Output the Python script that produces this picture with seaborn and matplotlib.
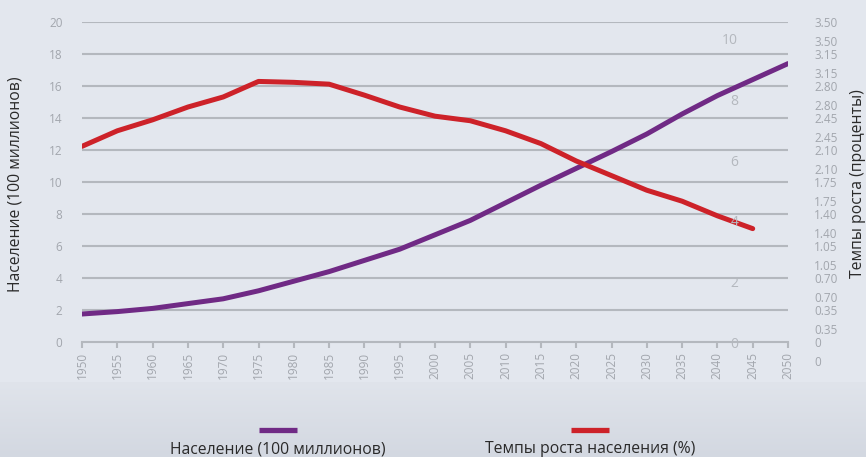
import numpy as np
import pandas as pd
import seaborn as sns
import matplotlib.pyplot as plt
from matplotlib.lines import Line2D

# ----------- Data ---------------------
years = list(range(1950, 2051, 5))
population = [1.75, 1.9, 2.1, 2.4, 2.7, 3.2, 3.8, 4.4, 5.1, 5.8, 6.7,
              7.6, 8.7, 9.8, 10.85, 11.9, 13.0, 14.25, 15.4, 16.4, 17.4]

growth_years = list(range(1950, 2046, 5))
growth_rate = [2.14, 2.31, 2.43, 2.57, 2.68, 2.85, 2.84, 2.82, 2.70, 2.57,
               2.47, 2.42, 2.31, 2.17, 1.98, 1.82, 1.66, 1.54, 1.38, 1.24]

left_ticks = [0, 2, 4, 6, 8, 10, 12, 14, 16, 18, 20]
right_ticks = [0, 0.35, 0.70, 1.05, 1.40, 1.75, 2.10, 2.45, 2.80, 3.15, 3.50]
inner_ticks = [0, 2, 4, 6, 8, 10]

pop_label = "Население (100 миллионов)"
rate_label = "Темпы роста населения (%)"
left_title = "Население (100 миллионов)"
right_title = "Темпы роста (проценты)"

pop_df = pd.DataFrame({"year": years, "value": population})
rate_df = pd.DataFrame({"year": growth_years, "value": growth_rate})

# ----------- Style ---------------------
sns.set_theme(style="white")
plt.rcParams['font.family'] = ['Open Sans', 'DejaVu Sans']

bg = "#e3e7ee"
grid_c = "#b4b8be"
tick_c = "#a2a6ad"
purple = "#702a85"
red = "#cd2229"

W, H = 866, 457
fig = plt.figure(figsize=(W / 100, H / 100), dpi=100, facecolor=bg)


def box(x0, y0, x1, y1):
    return [x0 / W, 1 - y1 / H, (x1 - x0) / W, (y1 - y0) / H]


# bottom gradient band
band = fig.add_axes(box(0, 382, W, H), zorder=-5)
grad = np.linspace(0, 1, 100).reshape(-1, 1)
band.imshow(grad, aspect="auto", cmap=sns.blend_palette(["#e0e4eb", "#d3d8e1"], as_cmap=True),
            extent=[0, 1, 0, 1], origin="upper")
band.axis("off")

# ----------- Main axes ---------------------
ax = fig.add_axes(box(82, 22, 788, 342))
ax.set_facecolor("none")
sns.lineplot(data=pop_df, x="year", y="value", ax=ax, color=purple, lw=3.6, zorder=3)
ax.set_xlim(1950, 2050)
ax.set_ylim(0, 20)
ax.set_yticks(left_ticks)
ax.set_xticks(years)
ax.set_xticklabels([str(y) for y in years], rotation=90)
ax.tick_params(axis="y", length=0, pad=14, labelsize=8.5, labelcolor=tick_c)
ax.tick_params(axis="x", length=4, width=1.5, color=grid_c, direction="out",
               pad=3, labelsize=8.5, labelcolor=tick_c, bottom=True)
for yv in left_ticks[1:]:
    ax.axhline(yv, color=grid_c, lw=1.5, zorder=1)
for s in ["top", "right", "left"]:
    ax.spines[s].set_visible(False)
ax.spines["bottom"].set_color(grid_c)
ax.spines["bottom"].set_linewidth(1.5)
ax.set_xlabel("")
ax.set_ylabel("")

# ----------- Growth rate on right axis ---------------------
ax2 = ax.twinx()
sns.lineplot(data=rate_df, x="year", y="value", ax=ax2, color=red, lw=3.6, zorder=3)
ax2.set_ylim(0, 3.5)
ax2.set_yticks(right_ticks)
ax2.set_yticklabels(["0" if v == 0 else f"{v:.2f}" for v in right_ticks])
ax2.tick_params(axis="y", length=0, pad=19, labelsize=8.5, labelcolor=tick_c)
for s in ax2.spines.values():
    s.set_visible(False)
ax2.set_ylabel("")
ax2.set_xlabel("")

# duplicated right labels, shifted down
ax3 = fig.add_axes(box(82, 41, 788, 361))
ax3.set_facecolor("none")
ax3.set_ylim(0, 3.5)
ax3.set_yticks(right_ticks)
ax3.set_yticklabels(["0" if v == 0 else f"{v:.2f}" for v in right_ticks])
ax3.yaxis.tick_right()
ax3.tick_params(axis="y", length=0, pad=19, labelsize=8.5, labelcolor=tick_c)
ax3.set_xticks([])
for s in ax3.spines.values():
    s.set_visible(False)

# inner 0-10 labels
ax4 = fig.add_axes(box(741, 22, 788, 342))
ax4.set_facecolor("none")
ax4.set_ylim(0, 320 / 30.3)
ax4.set_yticks(inner_ticks)
ax4.tick_params(axis="y", length=0, pad=2, labelsize=10, labelcolor="#b4b8be")
ax4.set_xticks([])
for s in ax4.spines.values():
    s.set_visible(False)

# ----------- Titles and legend ---------------------
fig.text(16 / W, 1 - 184 / H, left_title, rotation=90, ha="center", va="center",
         fontsize=11.3, color="#2a2a2a")
fig.text(858 / W, 1 - 184 / H, right_title, rotation=90, ha="center", va="center",
         fontsize=11.3, color="#2a2a2a")

for cx, col, lab in [(278, purple, pop_label), (590, red, rate_label)]:
    fig.add_artist(Line2D([(cx - 19) / W, (cx + 19) / W], [1 - 430 / H, 1 - 430 / H],
                          color=col, lw=3.8, solid_capstyle="butt"))
    fig.text(cx / W, 1 - 449 / H, lab, ha="center", va="center", fontsize=11.3, color="#2a2a2a")

fig.savefig("out.png", dpi=100, facecolor=bg)
